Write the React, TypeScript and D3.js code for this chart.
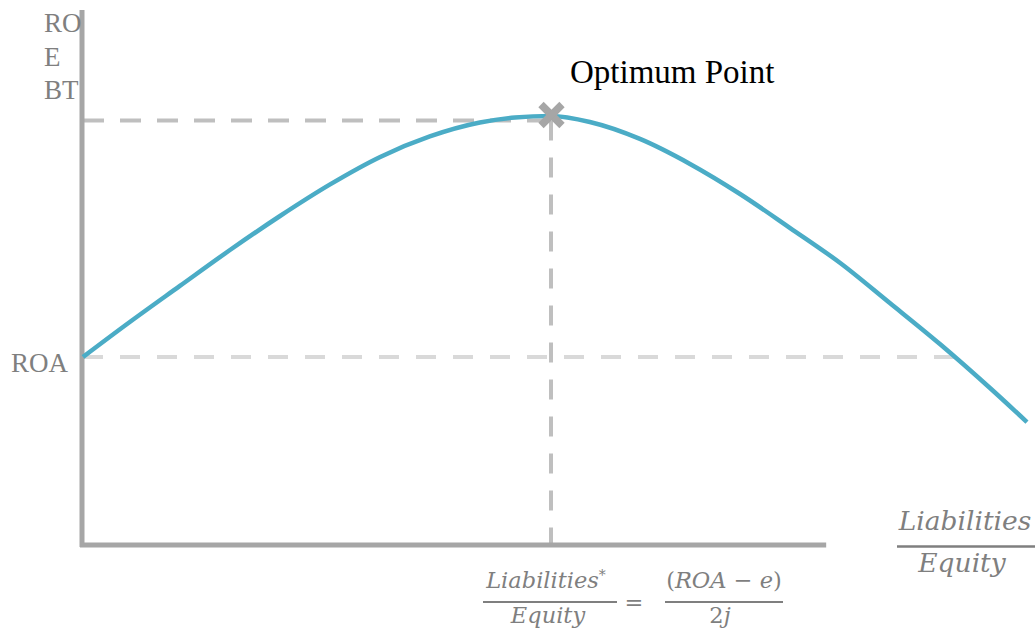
import React from "react";
import * as d3 from "d3";

// Liabilities / Equity, in units of the optimum ratio
const leverage = [0, 0.1, 0.207, 0.314, 0.421, 0.528, 0.635, 0.741, 0.848, 0.923, 1.0, 1.083, 1.19, 1.297, 1.404, 1.511, 1.618, 1.724, 1.831, 1.938, 2.017];
// ROE before tax, in units of ROA
const roebt = [1.0, 1.186, 1.378, 1.569, 1.75, 1.918, 2.064, 2.173, 2.247, 2.274, 2.282, 2.25, 2.16, 2.027, 1.867, 1.686, 1.5, 1.287, 1.069, 0.835, 0.654];

const roa = 1;
const roaCrossing = 1.866; // where the curve falls back to ROA
const optimum = { x: 1, y: 2.258 };
const axisMax = { x: 1.588, y: 2.846 };
const yLabelLines = ["RO", "E", "BT"];

const AXIS = "#a6a6a6";
const TEXT = "#7f7f7f";

const App = () => {
  const width = 1035;
  const height = 632;

  const x = d3.scaleLinear().domain([0, 1]).range([83, 551]);
  const y = d3.scaleLinear().domain([0, 1]).range([545, 357]);

  const pts = leverage.map((d, i) => [d, roebt[i]] as [number, number]);
  const line = d3
    .line<[number, number]>()
    .x(d => x(d[0]))
    .y(d => y(d[1]))
    .curve(d3.curveMonotoneX);

  const peak = pts[d3.maxIndex(pts, d => d[1])];
  const mx = x(peak[0]) + 0.5;
  const my = y(peak[1]) - 1;
  const m = 10.5;

  const serif = "'Liberation Serif', serif";
  const math = "'DejaVu Serif', serif";

  return (
    <svg width={width} height={height} style={{ position: "absolute", left: 0, top: 0, background: "#fff" }}>
      {/* dashed guides */}
      <line x1={x(0)} x2={x(roaCrossing)} y1={y(roa)} y2={y(roa)} stroke="#d9d9d9" strokeWidth={4} strokeDasharray="20 17" />
      <line x1={x(0)} x2={x(optimum.x)} y1={y(optimum.y)} y2={y(optimum.y)} stroke="#bfbfbf" strokeWidth={4} strokeDasharray="21 16" />
      <line x1={x(optimum.x)} x2={x(optimum.x)} y1={y(optimum.y)} y2={y(0)} stroke="#bfbfbf" strokeWidth={4} strokeDasharray="20 17" />

      {/* axes */}
      <line x1={x(0) - 1} x2={x(0) - 1} y1={y(axisMax.y)} y2={y(0) + 2} stroke={AXIS} strokeWidth={5} />
      <line x1={x(0) - 3} x2={x(axisMax.x)} y1={y(0)} y2={y(0)} stroke={AXIS} strokeWidth={5} />

      {/* curve */}
      <path d={line(pts) || ""} fill="none" stroke="#4bacc6" strokeWidth={4.5} />

      {/* optimum marker */}
      <g stroke={AXIS} strokeWidth={7.5}>
        <line x1={mx - m} y1={my - m} x2={mx + m} y2={my + m} />
        <line x1={mx - m} y1={my + m} x2={mx + m} y2={my - m} />
      </g>
      <text x={570} y={83} fontFamily={serif} fontSize={33} fill="#000">Optimum Point</text>

      {/* y labels */}
      {yLabelLines.map((t, i) => (
        <text key={t} x={44} y={32 + i * 33.5} fontFamily={serif} fontSize={27} fill={TEXT}>{t}</text>
      ))}
      <text x={11} y={372} fontFamily={serif} fontSize={27} fill={TEXT}>ROA</text>

      {/* x label */}
      <g fontFamily={math} fill={TEXT} textAnchor="middle">
        <text x={965} y={530} fontSize={26.5} fontStyle="italic">Liabilities</text>
        <line x1={897} x2={1035} y1={546.5} y2={546.5} stroke={TEXT} strokeWidth={2.5} />
        <text x={962} y={572} fontSize={26.5} fontStyle="italic">Equity</text>
      </g>

      {/* optimum formula */}
      <g fontFamily={math} fill={TEXT} fontSize={22.5}>
        <text x={546} y={588} textAnchor="middle">
          <tspan fontStyle="italic">Liabilities</tspan>
          <tspan dy={-8} fontSize={14}>*</tspan>
        </text>
        <line x1={483} x2={617} y1={602} y2={602} stroke={TEXT} strokeWidth={2} />
        <text x={548} y={623} textAnchor="middle" fontStyle="italic">Equity</text>
        <text x={634} y={610} textAnchor="middle">=</text>
        <text x={724} y={588} textAnchor="middle">
          <tspan>(</tspan>
          <tspan fontStyle="italic">ROA</tspan>
          <tspan> − </tspan>
          <tspan fontStyle="italic">e</tspan>
          <tspan>)</tspan>
        </text>
        <line x1={665} x2={783} y1={602} y2={602} stroke={TEXT} strokeWidth={2} />
        <text x={720} y={623} textAnchor="middle">
          <tspan>2</tspan>
          <tspan fontStyle="italic">j</tspan>
        </text>
      </g>
    </svg>
  );
};

export default App;
